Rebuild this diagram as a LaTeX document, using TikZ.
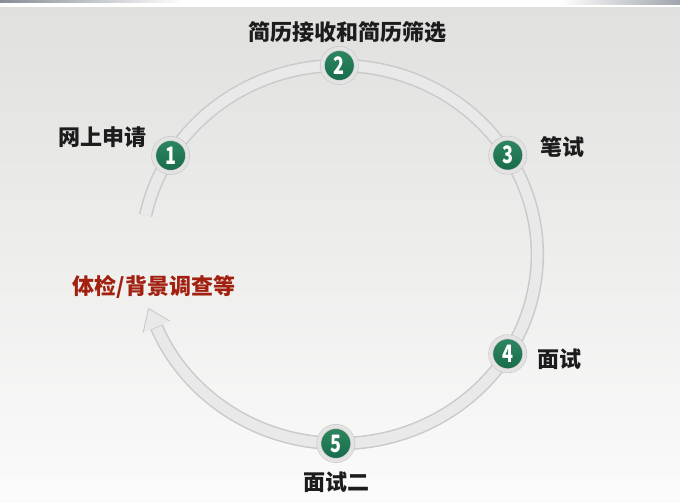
\documentclass[tikz,border=0pt]{standalone}
\usepackage{fontspec}
\newfontfamily\cjk{Noto Sans CJK SC}
\usepackage{tikz}
\definecolor{bgtop}{HTML}{E0E0DE}
\definecolor{bgbot}{HTML}{FBFBFB}
\definecolor{barleft}{HTML}{878E96}
\definecolor{ringedge}{HTML}{CACACA}
\definecolor{ringface}{HTML}{E9E9E9}
\definecolor{badgetop}{HTML}{2F8862}
\definecolor{badgebot}{HTML}{166A49}
\definecolor{halo}{HTML}{E3E3E3}
\definecolor{haloedge}{HTML}{C8C8C8}
\definecolor{labelred}{HTML}{A2200F}
\definecolor{labelblack}{HTML}{1C1C1C}
\tikzset{
    badge/.style={circle, inner sep=0pt, minimum size=34pt, top color=badgetop, bottom color=badgebot,
        draw=haloedge, line width=0.6pt, double=halo, double distance=3.6pt,
        text=white, font=\cjk\bfseries\fontsize{24}{24}\selectfont},
    steptext/.style={inner sep=0pt, text=labelblack, font=\cjk\bfseries\fontsize{22}{22}\selectfont},
    redtext/.style={steptext, text=labelred}
}

\begin{document}
\begin{tikzpicture}[x=1pt, y=1pt]
        \useasboundingbox (0, 0) rectangle (680, 503);
        \shade[top color=bgtop, bottom color=bgbot] (0, 0) rectangle (680, 496);
        \fill[white] (0, 496) rectangle (680, 503);
        \shade[left color=barleft, right color=white] (0, 500.5) rectangle (185, 503);
        \shade[left color=white, right color=barleft!80] (560, 498) rectangle (680, 503);

        \coordinate (c) at (339.3, 248.5);
        \coordinate (tip) at (148.5, 194.5);
        \coordinate (wl) at (143.1, 170.4);
        \coordinate (wr) at (169.7, 182);

        \draw[ringedge, line width=13.5pt] (c) ++(168:198 and 189) arc[start angle=168, end angle=-157.5, x radius=198, y radius=189];
        \draw[ringface, line width=10.5pt] (c) ++(168:198 and 189) arc[start angle=168, end angle=-157.2, x radius=198, y radius=189];
        \fill[ringface] (wl) -- (tip) -- (wr) -- cycle;
        \draw[ringedge, line width=0.9pt, line join=round] (wl) -- (tip) -- (wr);

        \foreach \n/\a in {1/148.4, 2/90, 3/31.7, 4/-31.7, 5/-91}
            \node[badge] (b\n) at ([shift={(\a:198 and 189)}]c) {\scalebox{0.75}[1]{\n}};

        \node[steptext] (l1) at (102, 366) {网上申请};
        \node[steptext] (l2) at (347, 471) {简历接收和简历筛选};
        \node[steptext] (l3) at (562, 356) {笔试};
        \node[steptext] (l4) at (559, 144) {面试};
        \node[steptext] (l5) at (336, 21) {面试二};
        \node[redtext] (l6) at (154, 216) {体检/背景调查等};
    \end{tikzpicture}
\end{document}
